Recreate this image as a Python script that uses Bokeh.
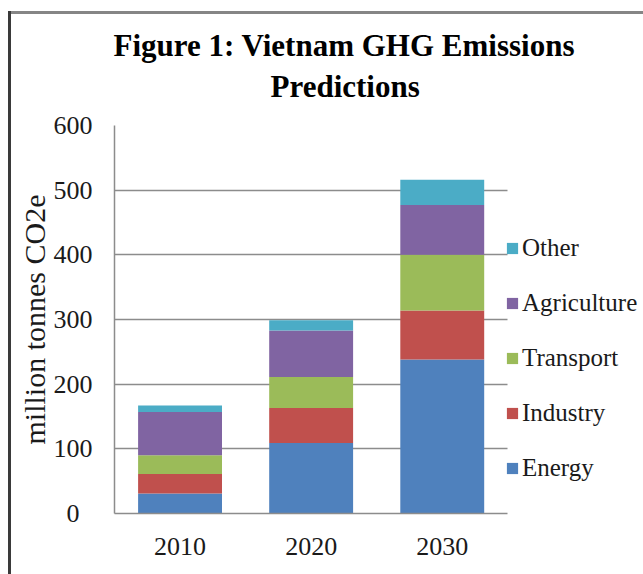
from bokeh.plotting import figure
from bokeh.models import (ColumnDataSource, Range1d, FixedTicker, Legend, LegendItem, Title, Grid)
from bokeh.embed import file_html
from bokeh.resources import INLINE

years = ["2010", "2020", "2030"]
energy = [31, 109, 238]
industry = [30, 54, 76]
transport = [29, 48, 86]
agriculture = [67, 72, 77]
other = [10, 16, 39]
sectors = ["Energy", "Industry", "Transport", "Agriculture", "Other"]
colors = ["#4F81BD", "#C0504D", "#9BBB59", "#8064A2", "#4BACC6"]
y_ticks = [0, 100, 200, 300, 400, 500, 600]
title_lines = ["Figure 1: Vietnam GHG Emissions", "Predictions"]
y_label = "million tonnes CO2e"

FONT = "Liberation Serif"

# category slots 0..n on a numeric axis; the extra room on the right holds the legend
n = len(years)
xpos = [i + 0.5 for i in range(n)]
source = ColumnDataSource(dict(x=xpos, Energy=energy, Industry=industry,
                               Transport=transport, Agriculture=agriculture, Other=other))

p = figure(x_range=Range1d(0, n * 529 / 393.3), y_range=Range1d(0, 600),
           width=643, height=574, output_backend="svg", toolbar_location=None,
           min_border_left=114, min_border_right=0, min_border_top=125, min_border_bottom=61)
p.background_fill_color = "white"
p.border_fill_color = None
p.outline_line_color = None
# chart-area frame lines (left and top edges of the original chart box)
p.styles = {"background": "linear-gradient(#3a3a3a,#3a3a3a) 8px 11px / 3px 600px no-repeat, "
                          "linear-gradient(#858585,#858585) 8px 11px / 700px 3px no-repeat, "
                          "#ffffff"}

renderers = p.vbar_stack(sectors, x="x", width=0.64, source=source, color=colors,
                         line_color=None)

# axes
p.xaxis.ticker = FixedTicker(ticks=xpos)
p.xaxis.major_label_overrides = {x: y for x, y in zip(xpos, years)}
p.xaxis.bounds = (0, n)
p.yaxis.ticker = FixedTicker(ticks=y_ticks)
p.yaxis.major_label_overrides = {0: "\u20070\u2007"}
p.yaxis.axis_label = y_label
p.yaxis.bounds = (0, 600)
for ax in (p.xaxis[0], p.yaxis[0]):
    ax.axis_line_color = "#8c8c8c"
    ax.axis_line_width = 1.5
    ax.major_tick_line_color = None
    ax.minor_tick_line_color = None
    ax.major_tick_out = 0
    ax.major_tick_in = 0
    ax.major_label_text_font = FONT
    ax.major_label_text_font_size = "26px"
    ax.major_label_text_color = "#1a1a1a"
p.yaxis.major_label_standoff = 22
p.xaxis.major_label_standoff = 24
p.yaxis.axis_label_text_font = FONT
p.yaxis.axis_label_text_font_size = "30px"
p.yaxis.axis_label_text_font_style = "normal"
p.yaxis.axis_label_text_color = "#1a1a1a"
p.yaxis.axis_label_standoff = 0

p.xgrid.grid_line_color = None
p.ygrid.ticker = FixedTicker(ticks=y_ticks)
p.ygrid.grid_line_color = "#8c8c8c"
p.ygrid.grid_line_width = 1.5
if "cross_bounds" in Grid.properties():
    p.ygrid.cross_bounds = (0, n)

# title: two lines, second one nearest the plot
p.add_layout(Title(text=title_lines[1], align="left", offset=156, standoff=44,
                   text_font=FONT, text_font_size="31px", text_font_style="bold",
                   text_color="black"), "above")
p.add_layout(Title(text=title_lines[0], align="left", offset=-1, standoff=-36,
                   text_font=FONT, text_font_size="31px", text_font_style="bold",
                   text_color="black"), "above")

# legend (inside the frame, right of the category slots)
items = [LegendItem(label=s, renderers=[r]) for s, r in zip(sectors, renderers)][::-1]
legend = Legend(items=items, location=(391, 30), orientation="vertical",
                glyph_width=14, glyph_height=14, label_standoff=3,
                label_text_font=FONT, label_text_font_size="25px", label_text_color="#1a1a1a",
                label_height=30, spacing=25, padding=0, margin=0,
                border_line_color=None, background_fill_alpha=0)
p.add_layout(legend, "center")

open("out.html", "w").write(file_html(p, INLINE))
